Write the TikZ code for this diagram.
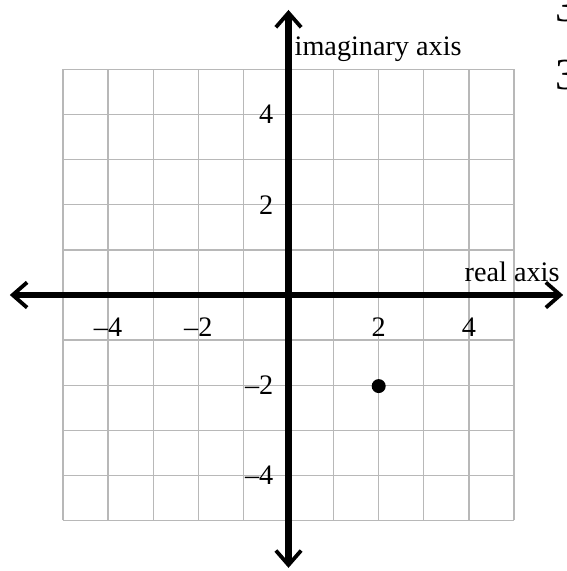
\documentclass[tikz,border=0pt]{standalone}
\usepackage{fontspec}
\setmainfont{Liberation Serif}
\usepackage{tikz}
\usetikzlibrary{positioning,arrows.meta}
\definecolor{gridgray}{HTML}{B8B8B8}

\begin{document}
\begin{tikzpicture}[
    axisline/.style={line width=3.8pt, {Straight Barb[length=3.2mm,width=5.6mm,line width=2.4pt]}-{Straight Barb[length=3.2mm,width=5.6mm,line width=2.4pt]}},
    gridline/.style={draw=gridgray, line width=0.8pt},
    ticklbl/.style={font=\fontsize{17.8}{20}\selectfont, inner sep=0pt},
    axislbl/.style={font=\fontsize{17.8}{20}\selectfont, inner sep=0pt, anchor=base west},
    cutlbl/.style={font=\fontsize{28}{30}\selectfont, inner sep=0pt, anchor=west},
]
\useasboundingbox (-6.397,-6.12) rectangle (6.175,6.541);
\draw[gridline] (-5,-5) grid (5,5);

\coordinate (L) at (-6.18,0);
\coordinate (R) at (6.09,0);
\coordinate (T) at (0,6.32);
\coordinate (B) at (0,-6.05);
\draw[axisline] (L) -- (R);
\draw[axisline] (B) -- (T);

\node[axislbl] (imlbl) at (0.13,5.32) {imaginary axis};
\node[axislbl] (relbl) at (3.9,0.29) {real axis};

\node[ticklbl] (xm4) at (-4,-0.72) {–4};
\node[ticklbl] (xm2) at (-2,-0.72) {–2};
\node[ticklbl] (xp2) at (2,-0.72) {2};
\node[ticklbl] (xp4) at (4,-0.72) {4};
\node[ticklbl, anchor=east] (yp4) at (-0.33,4) {4};
\node[ticklbl, anchor=east] (yp2) at (-0.33,2) {2};
\node[ticklbl, anchor=east] (ym2) at (-0.33,-2) {–2};
\node[ticklbl, anchor=east] (ym4) at (-0.33,-4) {–4};

\fill (2,-2.02) circle (0.155);

\node[cutlbl] (cutA) at (5.91,6.39) {3};
\node[cutlbl] (cutB) at (5.91,4.88) {3};
\end{tikzpicture}
\end{document}
